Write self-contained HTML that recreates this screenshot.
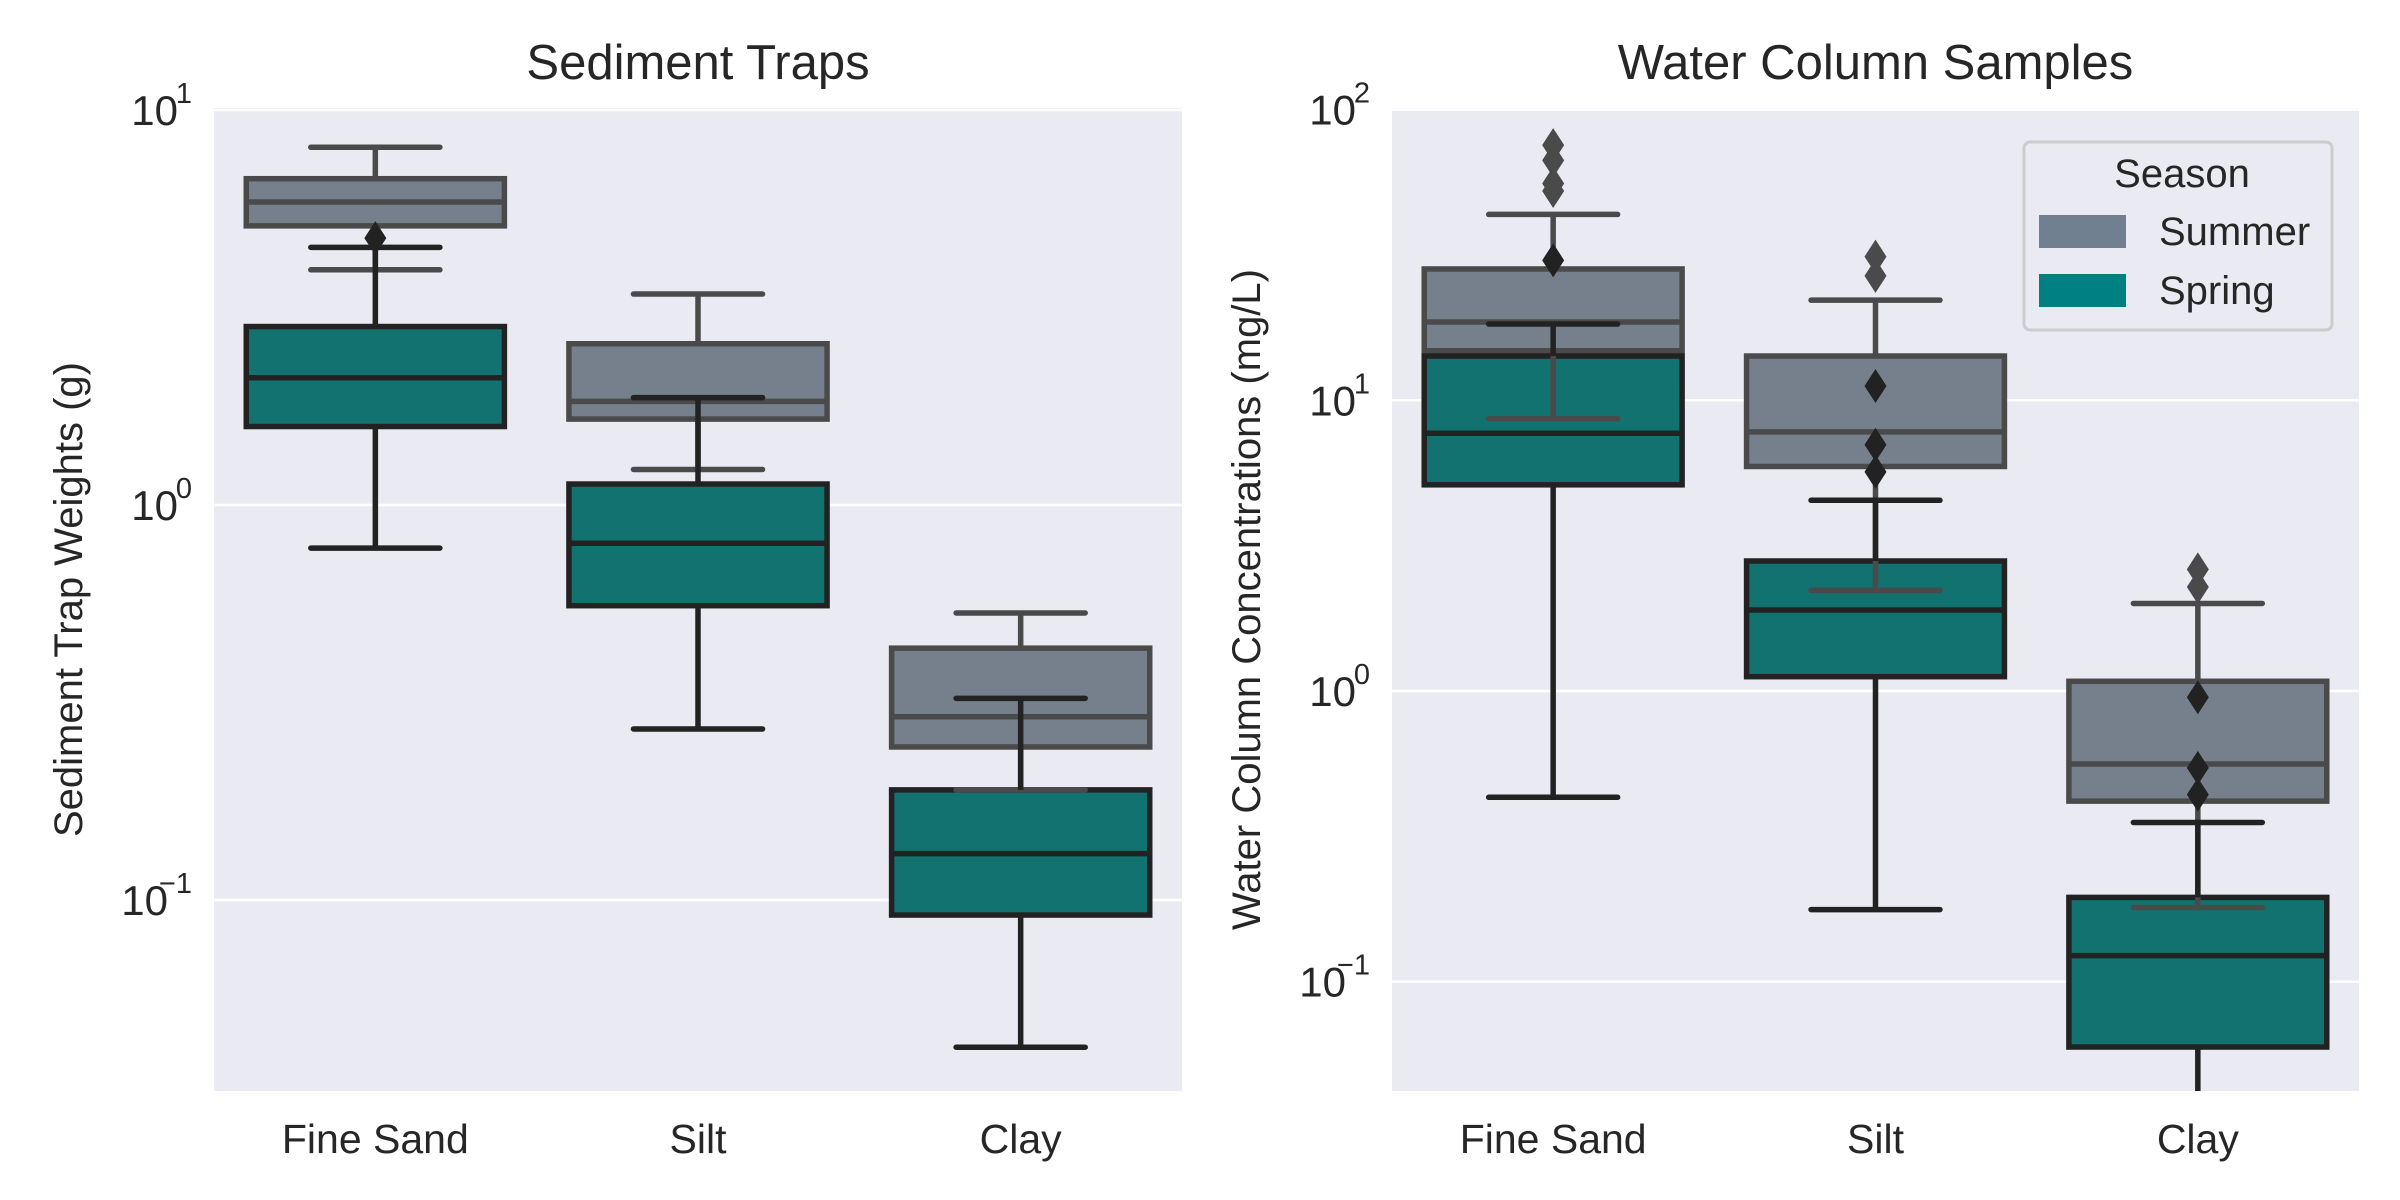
<!DOCTYPE html>
<html><head><meta charset="utf-8">
<style>
html,body{margin:0;padding:0;background:#fff;}
svg{display:block;font-family:"Liberation Sans",Arial,sans-serif;}
</style></head>
<body>
<svg id="fig" width="2400" height="1200" viewBox="0 0 2400 1200" xmlns="http://www.w3.org/2000/svg"></svg>
<script>
const categories = ["Fine Sand", "Silt", "Clay"];
const seasons = ["Summer", "Spring"];
// [lowerWhisker, Q1, median, Q3, upperWhisker] per category
const trapSummer = [[3.94,5.09,5.85,6.7,8.05],[1.23,1.65,1.83,2.56,3.42],[0.19,0.244,0.291,0.434,0.533]];
const trapSpring = [[0.778,1.58,2.10,2.83,4.49],[0.271,0.556,0.80,1.13,1.87],[0.0424,0.0916,0.131,0.19,0.324]];
const trapOutSummer = [[],[],[]];
const trapOutSpring = [[4.74],[],[]];
const waterSummer = [[8.64,14.8,18.6,28.3,43.6],[2.22,5.92,7.79,14.2,22.1],[0.18,0.418,0.561,1.08,2.0]];
const waterSpring = [[0.431,5.12,7.7,14.2,18.3],[0.177,1.12,1.90,2.80,4.53],[0.02,0.0596,0.123,0.195,0.353]];
const waterOutSummer = [[75.5,66.9,55.7,52.5],[31.2,26.8],[2.62,2.28]];
const waterOutSpring = [[30.3],[11.2,7.03,5.67],[0.952,0.544,0.44]];
const trapTicks = [-1,0,1];
const waterTicks = [-1,0,1,2];

const NS="http://www.w3.org/2000/svg";
const svg=document.getElementById('fig');
function mk(tag,attrs,parent){const e=document.createElementNS(NS,tag);for(const k in attrs)e.setAttribute(k,attrs[k]);(parent||svg).appendChild(e);return e;}

const fills={Summer:"#75808c",Spring:"#127270"};
const edges={Summer:"#4a4a4a",Spring:"#222222"};

function panel(cfg){
  const g=mk('g',{});
  
  
  const L=cfg.left,R=cfg.right,T=108,B=1091;
  const yScale=v=>cfg.y0-cfg.dec*Math.log10(v);
  const step=(R-L)/categories.length;
  const xScale=i=>L+step*(i+0.5);
  const bg=mk('rect',{x:L,y:T,width:R-L,height:B-T,fill:"#eaeaf2"},g);
  
  
  const cp=mk('clipPath',{id:cfg.name+'-clip'},g);
  mk('rect',{x:L,y:T,width:R-L,height:B-T},cp);
  cfg.ticks.forEach(t=>{
    const y=yScale(Math.pow(10,t));
    const gl=mk('line',{x1:L,x2:R,y1:y,y2:y,stroke:"#fff","stroke-width":2.5},g);
    
    
    const tx=mk('text',{x:L-22-(t<0?24:14),y:y+15,"font-size":42,fill:"#262626","text-anchor":"end"},g);
    tx.textContent="10";
    
    
    const sp=mk('text',{x:L-22,y:y-7,"font-size":29,fill:"#262626","text-anchor":"end"},g);
    sp.textContent=(t<0?"\u2212":"")+Math.abs(t);
    
    
  });
  const plot=mk('g',{"clip-path":"url(#"+cfg.name+"-clip)"},g);
  const bw=step*0.8, cw=bw*0.5, lw=5.5;
  const series=[["Summer",cfg.summer,cfg.outSummer],["Spring",cfg.spring,cfg.outSpring]];
  series.forEach(([s,data])=>{
    data.forEach((d,i)=>{
      const x=xScale(i);
      const r=mk('rect',{x:x-bw/2,y:yScale(d[3]),width:bw,height:yScale(d[1])-yScale(d[3]),fill:fills[s],stroke:edges[s],"stroke-width":lw},plot);
      
      
    });
  });
  series.forEach(([s,data,outs])=>{
    data.forEach((d,i)=>{
      const x=xScale(i);
      const c=edges[s];
      const w1=mk('line',{x1:x,x2:x,y1:yScale(d[0]),y2:yScale(d[1]),stroke:c,"stroke-width":lw},plot);
      
      
      const w2=mk('line',{x1:x,x2:x,y1:yScale(d[3]),y2:yScale(d[4]),stroke:c,"stroke-width":lw},plot);
      
      
      [d[0],d[4]].forEach(v=>{
        const cap=mk('line',{x1:x-cw/2,x2:x+cw/2,y1:yScale(v),y2:yScale(v),stroke:c,"stroke-width":lw,"stroke-linecap":"round"},plot);
        
        
      });
      const m=mk('line',{x1:x-bw/2,x2:x+bw/2,y1:yScale(d[2]),y2:yScale(d[2]),stroke:c,"stroke-width":lw},plot);
      
      
      outs[i].forEach(v=>{
        const y=yScale(v);
        const p=mk('polygon',{points:`${x},${y-17} ${x+11},${y} ${x},${y+17} ${x-11},${y}`,fill:c},plot);
        
        
      });
    });
  });
  categories.forEach((c,i)=>{
    const t=mk('text',{x:xScale(i),y:1153,"font-size":41,fill:"#262626","text-anchor":"middle"},g);
    t.textContent=c;
    
    
  });
  const ti=mk('text',{x:(L+R)/2,y:79,"font-size":49,fill:"#262626","text-anchor":"middle"},g);
  ti.textContent=cfg.title;
  
  
  const yl=mk('text',{x:0,y:0,"font-size":40,fill:"#262626","text-anchor":"middle",transform:`translate(${cfg.ylx},${(T+B)/2}) rotate(-90)`},g);
  yl.textContent=cfg.ylabel;
  
  
}

panel({name:"sediment-traps-panel",left:214,right:1182,y0:505,dec:395,ticks:trapTicks,summer:trapSummer,spring:trapSpring,outSummer:trapOutSummer,outSpring:trapOutSpring,title:"Sediment Traps",ylabel:"Sediment Trap Weights (g)",ylx:82});
panel({name:"water-column-panel",left:1392,right:2359,y0:691,dec:290.7,ticks:waterTicks,summer:waterSummer,spring:waterSpring,outSummer:waterOutSummer,outSpring:waterOutSpring,title:"Water Column Samples",ylabel:"Water Column Concentrations (mg/L)",ylx:1260});

const lg=mk('g',{});


mk('rect',{x:2024,y:142,width:308,height:188,rx:6,fill:"#eaeaf2","fill-opacity":0.85,stroke:"#cccccc","stroke-width":3},lg);
const lt=mk('text',{x:2182,y:187,"font-size":40,fill:"#262626","text-anchor":"middle"},lg);
lt.textContent="Season";


const legColors=["#708090","#008080"];
seasons.forEach((s,i)=>{
  const y=[215,274][i];
  const r=mk('rect',{x:2039,y:y,width:87,height:33,fill:legColors[i]},lg);
  
  
  const t=mk('text',{x:2159,y:y+30,"font-size":40,fill:"#262626"},lg);
  t.textContent=s;
  
  
});
</script>
</body></html>
